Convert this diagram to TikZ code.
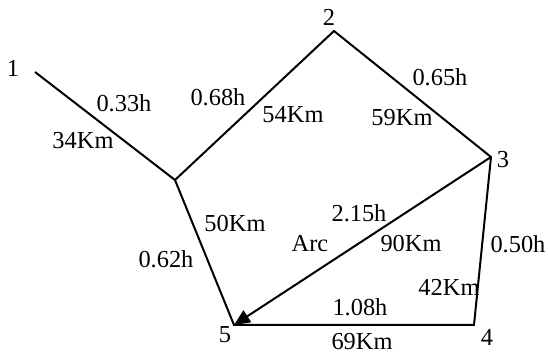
\documentclass[tikz,border=0pt]{standalone}
\usepackage{fontspec}
\setmainfont{Liberation Serif}
\usetikzlibrary{arrows.meta}
\begin{document}
\begin{tikzpicture}[x=0.5pt,y=-0.5pt,
  edge/.style={line width=1pt,black},
  lbl/.style={font=\fontsize{12.2}{14}\selectfont,inner sep=0pt},
  num/.style={font=\fontsize{12.2}{14}\selectfont,inner sep=0pt}]
\useasboundingbox (0,0) rectangle (548,362);
% vertices
\coordinate (p1) at (35,72);
\coordinate (J) at (175,180);
\coordinate (p2) at (334,31);
\coordinate (p3) at (491,157);
\coordinate (p4) at (474,325);
\coordinate (p5) at (234,325);
% vertex labels
\node[num] (n1) at (13,68) {1};
\node[num] (n2) at (329,17) {2};
\node[num] (n3) at (503,160) {3};
\node[num] (n4) at (487,337) {4};
\node[num] (n5) at (225,335) {5};
% edge labels
\node[lbl] (a1) at (124,103) {0.33h};
\node[lbl] (a2) at (83,141) {34Km};
\node[lbl] (a3) at (218,97) {0.68h};
\node[lbl] (a4) at (293,115) {54Km};
\node[lbl] (a5) at (440,77) {0.65h};
\node[lbl] (a6) at (402,118) {59Km};
\node[lbl] (a7) at (235,224) {50Km};
\node[lbl] (a8) at (166,259) {0.62h};
\node[lbl] (a9) at (359,213) {2.15h};
\node[lbl] (a10) at (310,244) {Arc};
\node[lbl] (a11) at (411,244) {90Km};
\node[lbl] (a12) at (518,244) {0.50h};
\node[lbl] (a13) at (449,287) {42Km};
\node[lbl] (a14) at (360,307) {1.08h};
\node[lbl] (a15) at (362,342) {69Km};
% edges
\draw[edge] (p1) -- (J) -- (p2) -- (p3) -- (p4) -- (p5) -- (J);
\draw[edge,-{Triangle[length=8pt,width=7pt]}] (p3) -- (p5);
\end{tikzpicture}
\end{document}
